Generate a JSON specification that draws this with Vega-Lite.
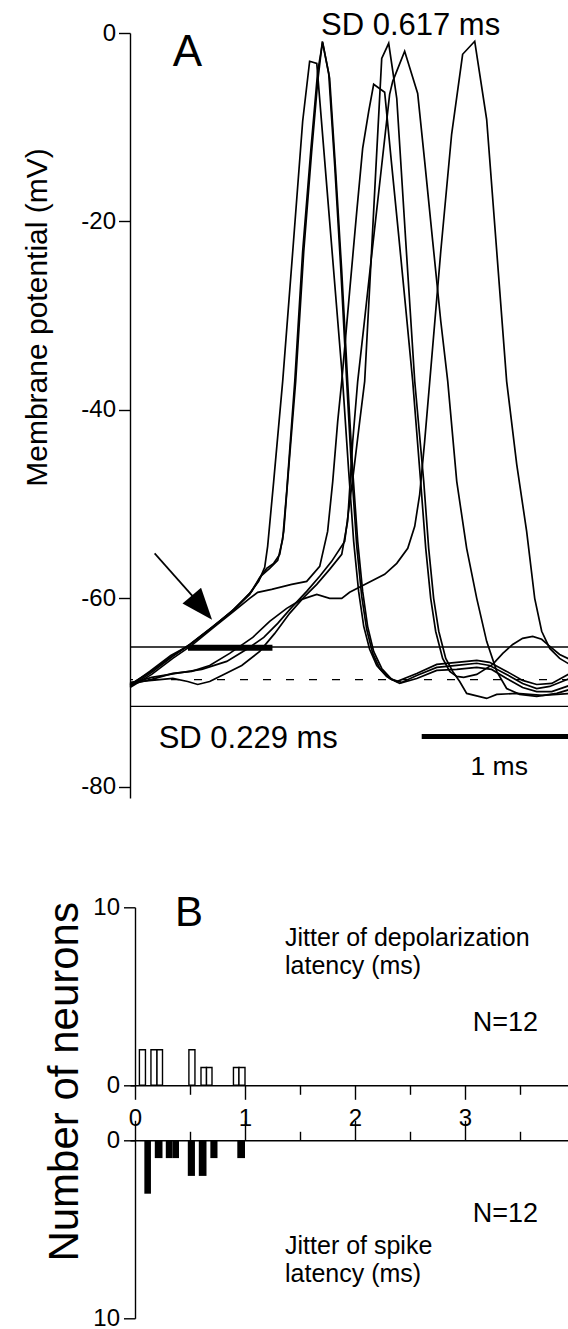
{
"$schema": "https://vega.github.io/schema/vega-lite/v6.json",
"background": "white",
"autosize": {"type": "pad"},
"padding": {"left": 21, "top": 9, "right": 0, "bottom": 0},
"bounds": "flush",
"spacing": 109.3,
"config": {
  "font": "Liberation Sans",
  "view": {"stroke": null},
  "axis": {"grid": false, "domainColor": "black", "domainWidth": 1.4, "tickColor": "black", "tickWidth": 1.4, "labelColor": "black", "titleColor": "black", "titleFontWeight": "normal", "labelFont": "Liberation Sans", "titleFont": "Liberation Sans", "labelFlush": false}
},
"datasets": {
  "traces": [
{"k":1,"t":0,"v":-69.15},{"k":1,"t":0.127,"v":-67.87},{"k":1,"t":0.269,"v":-66.17},{"k":1,"t":0.385,"v":-64.9},{"k":1,"t":0.527,"v":-63.09},{"k":1,"t":0.656,"v":-61.39},{"k":1,"t":0.772,"v":-59.59},{"k":1,"t":0.837,"v":-57.78},{"k":1,"t":0.882,"v":-56.83},{"k":1,"t":0.927,"v":-56.29},{"k":1,"t":0.966,"v":-55.34},{"k":1,"t":0.992,"v":-52.9},{"k":1,"t":1.017,"v":-47.59},{"k":1,"t":1.069,"v":-36.97},{"k":1,"t":1.121,"v":-23.17},{"k":1,"t":1.172,"v":-12.56},{"k":1,"t":1.211,"v":-5.13},{"k":1,"t":1.241,"v":-0.88},{"k":1,"t":1.288,"v":-4.81},{"k":1,"t":1.327,"v":-14.68},{"k":1,"t":1.366,"v":-25.3},{"k":1,"t":1.404,"v":-36.97},{"k":1,"t":1.437,"v":-46.53},{"k":1,"t":1.469,"v":-53.96},{"k":1,"t":1.501,"v":-59.27},{"k":1,"t":1.533,"v":-62.98},{"k":1,"t":1.572,"v":-65.64},{"k":1,"t":1.624,"v":-67.45},{"k":1,"t":1.688,"v":-68.61},{"k":1,"t":1.753,"v":-68.93},{"k":1,"t":1.85,"v":-68.19},{"k":1,"t":1.979,"v":-67.34},{"k":1,"t":2.108,"v":-67.13},{"k":1,"t":2.237,"v":-66.9},{"k":1,"t":2.32,"v":-67.13},{"k":1,"t":2.43,"v":-68.08},{"k":1,"t":2.533,"v":-69.04},{"k":1,"t":2.624,"v":-69.58},{"k":1,"t":2.708,"v":-69.36},{"k":1,"t":2.837,"v":-68.51},
{"k":2,"t":0,"v":-69.36},{"k":2,"t":0.14,"v":-67.87},{"k":2,"t":0.276,"v":-66.17},{"k":2,"t":0.398,"v":-64.79},{"k":2,"t":0.54,"v":-62.98},{"k":2,"t":0.669,"v":-61.18},{"k":2,"t":0.785,"v":-59.27},{"k":2,"t":0.85,"v":-57.57},{"k":2,"t":0.901,"v":-56.83},{"k":2,"t":0.953,"v":-55.98},{"k":2,"t":0.985,"v":-53.75},{"k":2,"t":1.011,"v":-48.65},{"k":2,"t":1.063,"v":-36.97},{"k":2,"t":1.114,"v":-23.17},{"k":2,"t":1.166,"v":-12.56},{"k":2,"t":1.211,"v":-4.07},{"k":2,"t":1.243,"v":-0.99},{"k":2,"t":1.282,"v":-4.28},{"k":2,"t":1.321,"v":-14.15},{"k":2,"t":1.359,"v":-24.77},{"k":2,"t":1.398,"v":-36.97},{"k":2,"t":1.43,"v":-46.53},{"k":2,"t":1.463,"v":-54.49},{"k":2,"t":1.495,"v":-59.8},{"k":2,"t":1.527,"v":-63.29},{"k":2,"t":1.566,"v":-65.85},{"k":2,"t":1.611,"v":-67.45},{"k":2,"t":1.675,"v":-68.51},{"k":2,"t":1.74,"v":-69.04},{"k":2,"t":1.85,"v":-68.51},{"k":2,"t":1.979,"v":-67.66},{"k":2,"t":2.108,"v":-67.55},{"k":2,"t":2.237,"v":-67.34},{"k":2,"t":2.333,"v":-67.55},{"k":2,"t":2.43,"v":-68.51},{"k":2,"t":2.533,"v":-69.47},{"k":2,"t":2.624,"v":-69.9},{"k":2,"t":2.721,"v":-69.9},{"k":2,"t":2.837,"v":-69.25},
{"k":3,"t":0,"v":-69.25},{"k":3,"t":0.127,"v":-67.76},{"k":3,"t":0.263,"v":-66.07},{"k":3,"t":0.372,"v":-65.1},{"k":3,"t":0.521,"v":-63.19},{"k":3,"t":0.682,"v":-61.07},{"k":3,"t":0.772,"v":-59.48},{"k":3,"t":0.83,"v":-58.21},{"k":3,"t":0.869,"v":-56.72},{"k":3,"t":0.888,"v":-54.49},{"k":3,"t":0.927,"v":-47.59},{"k":3,"t":0.985,"v":-36.97},{"k":3,"t":1.05,"v":-23.17},{"k":3,"t":1.114,"v":-9.37},{"k":3,"t":1.159,"v":-3.0},{"k":3,"t":1.205,"v":-3.22},{"k":3,"t":1.288,"v":-19.99},{"k":3,"t":1.372,"v":-36.97},{"k":3,"t":1.411,"v":-46.53},{"k":3,"t":1.443,"v":-53.96},{"k":3,"t":1.475,"v":-59.27},{"k":3,"t":1.508,"v":-62.98},{"k":3,"t":1.546,"v":-65.42},{"k":3,"t":1.592,"v":-67.13},{"k":3,"t":1.656,"v":-68.3},{"k":3,"t":1.721,"v":-68.83},{"k":3,"t":1.85,"v":-67.98},{"k":3,"t":1.979,"v":-67.02},{"k":3,"t":2.108,"v":-66.8},{"k":3,"t":2.237,"v":-66.59},{"k":3,"t":2.32,"v":-66.8},{"k":3,"t":2.43,"v":-67.76},{"k":3,"t":2.533,"v":-68.72},{"k":3,"t":2.624,"v":-69.15},{"k":3,"t":2.721,"v":-69.04},{"k":3,"t":2.837,"v":-67.98},
{"k":4,"t":0,"v":-69.47},{"k":4,"t":0.14,"v":-68.08},{"k":4,"t":0.276,"v":-66.38},{"k":4,"t":0.398,"v":-65.0},{"k":4,"t":0.54,"v":-63.09},{"k":4,"t":0.669,"v":-61.39},{"k":4,"t":0.772,"v":-60.01},{"k":4,"t":0.824,"v":-59.37},{"k":4,"t":0.914,"v":-59.05},{"k":4,"t":1.043,"v":-58.53},{"k":4,"t":1.14,"v":-58.21},{"k":4,"t":1.224,"v":-56.61},{"k":4,"t":1.275,"v":-52.9},{"k":4,"t":1.308,"v":-47.59},{"k":4,"t":1.34,"v":-41.22},{"k":4,"t":1.366,"v":-36.97},{"k":4,"t":1.417,"v":-27.42},{"k":4,"t":1.463,"v":-18.93},{"k":4,"t":1.501,"v":-12.24},{"k":4,"t":1.54,"v":-8.31},{"k":4,"t":1.572,"v":-5.45},{"k":4,"t":1.643,"v":-6.29},{"k":4,"t":1.688,"v":-13.94},{"k":4,"t":1.734,"v":-21.58},{"k":4,"t":1.779,"v":-29.23},{"k":4,"t":1.824,"v":-36.97},{"k":4,"t":1.875,"v":-47.59},{"k":4,"t":1.908,"v":-54.7},{"k":4,"t":1.94,"v":-60.01},{"k":4,"t":1.972,"v":-63.5},{"k":4,"t":2.017,"v":-66.38},{"k":4,"t":2.063,"v":-67.76},{"k":4,"t":2.108,"v":-68.3},{"k":4,"t":2.153,"v":-68.4},{"k":4,"t":2.237,"v":-68.08},{"k":4,"t":2.34,"v":-67.02},{"k":4,"t":2.405,"v":-65.85},{"k":4,"t":2.469,"v":-64.9},{"k":4,"t":2.533,"v":-64.25},{"k":4,"t":2.598,"v":-64.04},{"k":4,"t":2.656,"v":-64.35},{"k":4,"t":2.701,"v":-65.0},{"k":4,"t":2.772,"v":-65.96},{"k":4,"t":2.837,"v":-66.49},
{"k":5,"t":0,"v":-69.04},{"k":5,"t":0.14,"v":-68.4},{"k":5,"t":0.295,"v":-67.98},{"k":5,"t":0.463,"v":-67.55},{"k":5,"t":0.624,"v":-66.7},{"k":5,"t":0.753,"v":-65.42},{"k":5,"t":0.863,"v":-64.15},{"k":5,"t":0.953,"v":-62.66},{"k":5,"t":1.043,"v":-60.97},{"k":5,"t":1.14,"v":-59.27},{"k":5,"t":1.224,"v":-57.67},{"k":5,"t":1.301,"v":-56.08},{"k":5,"t":1.385,"v":-53.96},{"k":5,"t":1.443,"v":-46.53},{"k":5,"t":1.482,"v":-41.22},{"k":5,"t":1.514,"v":-36.97},{"k":5,"t":1.553,"v":-24.87},{"k":5,"t":1.585,"v":-14.79},{"k":5,"t":1.624,"v":-2.69},{"k":5,"t":1.669,"v":-1.09},{"k":5,"t":1.721,"v":-6.93},{"k":5,"t":1.779,"v":-22.11},{"k":5,"t":1.837,"v":-36.97},{"k":5,"t":1.895,"v":-47.59},{"k":5,"t":1.927,"v":-54.7},{"k":5,"t":1.959,"v":-60.01},{"k":5,"t":1.992,"v":-63.5},{"k":5,"t":2.037,"v":-66.38},{"k":5,"t":2.082,"v":-67.76},{"k":5,"t":2.127,"v":-68.83},{"k":5,"t":2.172,"v":-70.1},{"k":5,"t":2.301,"v":-70.63},{"k":5,"t":2.366,"v":-70.2},{"k":5,"t":2.495,"v":-70.1},{"k":5,"t":2.662,"v":-70.31},{"k":5,"t":2.837,"v":-70.1},
{"k":6,"t":0,"v":-68.93},{"k":6,"t":0.14,"v":-68.72},{"k":6,"t":0.276,"v":-68.51},{"k":6,"t":0.372,"v":-68.83},{"k":6,"t":0.437,"v":-69.15},{"k":6,"t":0.514,"v":-68.83},{"k":6,"t":0.605,"v":-68.08},{"k":6,"t":0.721,"v":-67.13},{"k":6,"t":0.837,"v":-65.64},{"k":6,"t":0.934,"v":-63.73},{"k":6,"t":1.03,"v":-61.6},{"k":6,"t":1.121,"v":-59.9},{"k":6,"t":1.205,"v":-58.53},{"k":6,"t":1.288,"v":-56.93},{"k":6,"t":1.366,"v":-55.34},{"k":6,"t":1.404,"v":-51.84},{"k":6,"t":1.437,"v":-43.34},{"k":6,"t":1.469,"v":-36.97},{"k":6,"t":1.508,"v":-31.24},{"k":6,"t":1.559,"v":-23.6},{"k":6,"t":1.624,"v":-14.04},{"k":6,"t":1.675,"v":-6.51},{"k":6,"t":1.695,"v":-5.13},{"k":6,"t":1.772,"v":-1.94},{"k":6,"t":1.856,"v":-6.41},{"k":6,"t":1.901,"v":-13.6},{"k":6,"t":1.953,"v":-22.11},{"k":6,"t":2.005,"v":-30.6},{"k":6,"t":2.05,"v":-36.97},{"k":6,"t":2.108,"v":-47.59},{"k":6,"t":2.172,"v":-54.7},{"k":6,"t":2.237,"v":-60.01},{"k":6,"t":2.301,"v":-64.57},{"k":6,"t":2.366,"v":-67.76},{"k":6,"t":2.43,"v":-69.58},{"k":6,"t":2.514,"v":-70.2},{"k":6,"t":2.624,"v":-70.41},{"k":6,"t":2.753,"v":-70.1},{"k":6,"t":2.837,"v":-69.68},
{"k":7,"t":0,"v":-69.15},{"k":7,"t":0.14,"v":-68.61},{"k":7,"t":0.276,"v":-67.98},{"k":7,"t":0.398,"v":-67.76},{"k":7,"t":0.514,"v":-67.13},{"k":7,"t":0.643,"v":-65.85},{"k":7,"t":0.792,"v":-64.15},{"k":7,"t":0.901,"v":-62.45},{"k":7,"t":1.011,"v":-61.07},{"k":7,"t":1.108,"v":-60.12},{"k":7,"t":1.205,"v":-59.59},{"k":7,"t":1.288,"v":-60.01},{"k":7,"t":1.366,"v":-60.01},{"k":7,"t":1.417,"v":-59.37},{"k":7,"t":1.527,"v":-58.42},{"k":7,"t":1.643,"v":-57.46},{"k":7,"t":1.721,"v":-56.29},{"k":7,"t":1.792,"v":-54.7},{"k":7,"t":1.837,"v":-52.36},{"k":7,"t":1.869,"v":-48.97},{"k":7,"t":1.901,"v":-43.34},{"k":7,"t":1.934,"v":-36.97},{"k":7,"t":2.005,"v":-23.17},{"k":7,"t":2.075,"v":-10.75},{"k":7,"t":2.146,"v":-2.26},{"k":7,"t":2.224,"v":-0.88},{"k":7,"t":2.301,"v":-9.16},{"k":7,"t":2.366,"v":-23.17},{"k":7,"t":2.43,"v":-36.97},{"k":7,"t":2.495,"v":-45.78},{"k":7,"t":2.559,"v":-52.9},{"k":7,"t":2.611,"v":-60.01},{"k":7,"t":2.656,"v":-63.5},{"k":7,"t":2.708,"v":-65.32},{"k":7,"t":2.772,"v":-66.38},{"k":7,"t":2.837,"v":-67.02}
  ],
  "levels": [{"name": "threshold", "v": -65.18}, {"name": "rest", "v": -68.64}, {"name": "floor", "v": -71.47}],
  "jitterbar": [{"t0": 0.374, "t1": 0.919, "v": -65.24}],
  "scalebar": [{"t0": 1.882, "t1": 2.882, "v": -74.66}],
  "arrow": [{"t": 0.159, "v": -55.23}, {"t": 0.411, "v": -59.9}],
  "arrowhead": [{"t": 0.464, "v": -61.0}],
  "notesA": [
    {"label": "SD 0.617 ms", "t": 1.232, "v": -0.17, "kind": "sd"},
    {"label": "SD 0.229 ms", "t": 0.185, "v": -75.9, "kind": "sd"},
    {"label": "1 ms", "t": 2.382, "v": -78.73, "kind": "scale"},
    {"label": "A", "t": 0.275, "v": -3.54, "kind": "panel"}
  ],
  "depol": [
    {"lo": 0.04, "hi": 0.095, "n": 2}, {"lo": 0.145, "hi": 0.2, "n": 2}, {"lo": 0.2, "hi": 0.25, "n": 2},
    {"lo": 0.49, "hi": 0.545, "n": 2}, {"lo": 0.6, "hi": 0.65, "n": 1}, {"lo": 0.65, "hi": 0.7, "n": 1},
    {"lo": 0.895, "hi": 0.945, "n": 1}, {"lo": 0.945, "hi": 1.0, "n": 1}
  ],
  "spike": [
    {"lo": 0.085, "hi": 0.145, "n": 3}, {"lo": 0.18, "hi": 0.25, "n": 1}, {"lo": 0.28, "hi": 0.34, "n": 1},
    {"lo": 0.34, "hi": 0.4, "n": 1}, {"lo": 0.48, "hi": 0.545, "n": 2}, {"lo": 0.58, "hi": 0.65, "n": 2},
    {"lo": 0.685, "hi": 0.75, "n": 1}, {"lo": 0.93, "hi": 1.0, "n": 1}
  ],
  "notesB1": [
    {"label": "B", "x": 0.364, "n": 8.93, "kind": "panel"},
    {"label": "Jitter of depolarization\nlatency (ms)", "x": 1.364, "n": 7.81, "kind": "desc"},
    {"label": "N=12", "x": 3.07, "n": 3.07, "kind": "n"}
  ],
  "notesB2": [
    {"label": "N=12", "x": 3.07, "n": 4.59, "kind": "n"},
    {"label": "Jitter of spike\nlatency (ms)", "x": 1.364, "n": 6.38, "kind": "desc"}
  ]
},
"vconcat": [
  {
    "width": 440,
    "height": 765,
    "resolve": {"axis": {"y": "independent", "x": "independent"}},
    "layer": [
      {
        "data": {"name": "traces"},
        "mark": {"type": "line", "color": "black", "strokeWidth": 1.7},
        "encoding": {
          "x": {"field": "t", "type": "quantitative", "scale": {"domain": [0, 2.8387], "nice": false, "zero": false}, "axis": null},
          "y": {"field": "v", "type": "quantitative", "scale": {"domain": [-81.2, 0], "nice": false, "zero": false},
                "axis": {"orient": "left", "values": [0, -20, -40, -60, -80], "labelExpr": "datum.value === 0 ? '0' : '-' + abs(datum.value)", "tickSize": 11.5, "labelFontSize": 24, "labelPadding": 3, "title": "Membrane potential (mV)", "titleFontSize": 30, "titleX": -78, "titleY": 284}},
          "detail": {"field": "k", "type": "nominal"}
        }
      },
      {
        "data": {"name": "levels"},
        "transform": [{"filter": "datum.name !== 'rest'"}],
        "mark": {"type": "rule", "color": "black", "strokeWidth": 1.4},
        "encoding": {"y": {"field": "v", "type": "quantitative", "axis": null}}
      },
      {
        "data": {"name": "levels"},
        "transform": [{"filter": "datum.name === 'rest'"}],
        "mark": {"type": "rule", "color": "black", "strokeWidth": 1.4, "strokeDash": [8, 15]},
        "encoding": {"y": {"field": "v", "type": "quantitative", "axis": null}}
      },
      {
        "data": {"name": "jitterbar"},
        "mark": {"type": "rule", "color": "black", "strokeWidth": 6},
        "encoding": {
          "x": {"field": "t0", "type": "quantitative", "axis": null},
          "x2": {"field": "t1"},
          "y": {"field": "v", "type": "quantitative", "axis": null}
        }
      },
      {
        "data": {"name": "scalebar"},
        "mark": {"type": "rule", "color": "black", "strokeWidth": 5, "clip": true},
        "encoding": {
          "x": {"field": "t0", "type": "quantitative", "axis": null},
          "x2": {"field": "t1"},
          "y": {"field": "v", "type": "quantitative", "axis": null}
        }
      },
      {
        "data": {"name": "arrow"},
        "mark": {"type": "line", "color": "black", "strokeWidth": 1.7},
        "encoding": {
          "x": {"field": "t", "type": "quantitative", "axis": null},
          "y": {"field": "v", "type": "quantitative", "axis": null}
        }
      },
      {
        "data": {"name": "arrowhead"},
        "mark": {"type": "point", "shape": "M1,0L-1,-0.77L-1,0.77Z", "size": 992, "angle": 49.9, "filled": true, "color": "black", "opacity": 1, "strokeWidth": 0},
        "encoding": {
          "x": {"field": "t", "type": "quantitative", "axis": null},
          "y": {"field": "v", "type": "quantitative", "axis": null}
        }
      },
      {
        "data": {"name": "notesA"},
        "transform": [{"filter": "datum.kind === 'sd'"}],
        "mark": {"type": "text", "align": "left", "baseline": "alphabetic", "fontSize": 31, "color": "black"},
        "encoding": {
          "x": {"field": "t", "type": "quantitative", "axis": null},
          "y": {"field": "v", "type": "quantitative", "axis": null},
          "text": {"field": "label"}
        }
      },
      {
        "data": {"name": "notesA"},
        "transform": [{"filter": "datum.kind === 'scale'"}],
        "mark": {"type": "text", "align": "center", "baseline": "alphabetic", "fontSize": 26.5, "color": "black"},
        "encoding": {
          "x": {"field": "t", "type": "quantitative", "axis": null},
          "y": {"field": "v", "type": "quantitative", "axis": null},
          "text": {"field": "label"}
        }
      },
      {
        "data": {"name": "notesA"},
        "transform": [{"filter": "datum.kind === 'panel'"}],
        "mark": {"type": "text", "align": "left", "baseline": "alphabetic", "fontSize": 44, "color": "black"},
        "encoding": {
          "x": {"field": "t", "type": "quantitative", "axis": null},
          "y": {"field": "v", "type": "quantitative", "axis": null},
          "text": {"field": "label"}
        }
      }
    ]
  },
  {
    "bounds": "flush",
    "spacing": 55,
    "vconcat": [
      {
        "width": 440,
        "height": 178,
        "resolve": {"axis": {"x": "independent", "y": "independent"}},
        "layer": [
          {
            "data": {"name": "depol"},
            "mark": {"type": "rect", "fill": "white", "stroke": "black", "strokeWidth": 1.4},
            "encoding": {
              "x": {"field": "lo", "type": "quantitative", "scale": {"domain": [-0.04545, 3.95455], "nice": false, "zero": false},
                    "axis": {"orient": "bottom", "values": [0, 1, 2, 3], "tickSize": 14, "labelFontSize": 24, "labelPadding": 7, "title": null}},
              "x2": {"field": "hi"},
              "y": {"field": "n", "type": "quantitative", "scale": {"domain": [0, 10], "nice": false},
                    "axis": {"orient": "left", "values": [0, 10], "tickSize": 11.5, "labelFontSize": 24, "labelPadding": 4, "offset": -5, "title": "Number of neurons", "titleFontSize": 42, "titleX": -48.5, "titleY": 174}},
              "y2": {"datum": 0}
            }
          },
          {
            "data": {"name": "notesB1"},
            "transform": [{"filter": "datum.kind === 'n'"}],
            "mark": {"type": "text", "align": "left", "baseline": "alphabetic", "fontSize": 27, "color": "black"},
            "encoding": {
              "x": {"field": "x", "type": "quantitative",
                    "axis": {"orient": "bottom", "values": [0.5, 1.5, 2.5, 3.5], "tickSize": 9, "labels": false, "domain": false, "title": null}},
              "y": {"field": "n", "type": "quantitative", "axis": null},
              "text": {"field": "label"}
            }
          },
          {
            "data": {"name": "notesB1"},
            "transform": [{"filter": "datum.kind === 'desc'"}],
            "mark": {"type": "text", "align": "left", "baseline": "alphabetic", "fontSize": 25, "lineHeight": 28, "lineBreak": "\n", "color": "black"},
            "encoding": {
              "x": {"field": "x", "type": "quantitative", "axis": null},
              "y": {"field": "n", "type": "quantitative", "axis": null},
              "text": {"field": "label"}
            }
          },
          {
            "data": {"name": "notesB1"},
            "transform": [{"filter": "datum.kind === 'panel'"}],
            "mark": {"type": "text", "align": "left", "baseline": "alphabetic", "fontSize": 42, "color": "black"},
            "encoding": {
              "x": {"field": "x", "type": "quantitative", "axis": null},
              "y": {"field": "n", "type": "quantitative", "axis": null},
              "text": {"field": "label"}
            }
          }
        ]
      },
      {
        "width": 440,
        "height": 178,
        "resolve": {"axis": {"x": "independent", "y": "independent"}},
        "layer": [
          {
            "data": {"name": "spike"},
            "mark": {"type": "rect", "fill": "black"},
            "encoding": {
              "x": {"field": "lo", "type": "quantitative", "scale": {"domain": [-0.04545, 3.95455], "nice": false, "zero": false},
                    "axis": {"orient": "top", "values": [0, 1, 2, 3], "tickSize": 20, "labels": false, "title": null}},
              "x2": {"field": "hi"},
              "y": {"field": "n", "type": "quantitative", "scale": {"domain": [0, 10], "nice": false, "reverse": true},
                    "axis": {"orient": "left", "values": [0, 10], "tickSize": 11.5, "labelFontSize": 24, "labelPadding": 4, "offset": -5, "title": null}},
              "y2": {"datum": 0}
            }
          },
          {
            "data": {"name": "notesB2"},
            "transform": [{"filter": "datum.kind === 'n'"}],
            "mark": {"type": "text", "align": "left", "baseline": "alphabetic", "fontSize": 27, "color": "black"},
            "encoding": {
              "x": {"field": "x", "type": "quantitative",
                    "axis": {"orient": "top", "values": [0.5, 1.5, 2.5, 3.5], "tickSize": 9, "labels": false, "domain": false, "title": null}},
              "y": {"field": "n", "type": "quantitative", "axis": null},
              "text": {"field": "label"}
            }
          },
          {
            "data": {"name": "notesB2"},
            "transform": [{"filter": "datum.kind === 'desc'"}],
            "mark": {"type": "text", "align": "left", "baseline": "alphabetic", "fontSize": 25, "lineHeight": 28, "lineBreak": "\n", "color": "black"},
            "encoding": {
              "x": {"field": "x", "type": "quantitative", "axis": null},
              "y": {"field": "n", "type": "quantitative", "axis": null},
              "text": {"field": "label"}
            }
          }
        ]
      }
    ]
  }
]
}
